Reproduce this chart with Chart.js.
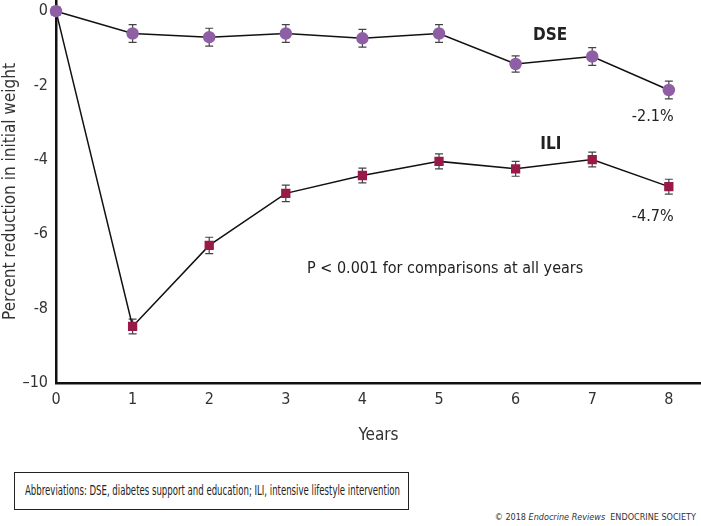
<!DOCTYPE html>
<html>
  <head>
    <title>Weight reduction DSE vs ILI</title>
    <script src="https://cdn.jsdelivr.net/npm/chart.js"></script>
    <style>
      body { margin: 0; background: #fff; font-family: "DejaVu Sans Condensed", "Liberation Sans Narrow", sans-serif; }
      #wrap { position: absolute; left: 0; top: 0; width: 701px; height: 450px; }
      #note {
        position: absolute; left: 14px; top: 472px; width: 395px; height: 38px;
        border: 1px solid #222; box-sizing: border-box;
      }
      #note span {
        position: absolute; left: 10px; top: 9px; font-size: 14px; color: #222; white-space: nowrap;
        transform: scaleX(0.68); transform-origin: 0 0;
      }
      #copy { position: absolute; right: 5px; top: 512px; font-size: 9px; color: #333; }
    </style>
  </head>
  <body>
    <div id="wrap"><canvas id="myChart" width="701" height="450"></canvas></div>
    <div id="note"><span>Abbreviations: DSE, diabetes support and education; ILI, intensive lifestyle intervention</span></div>
    <div id="copy">© 2018 <i>Endocrine Reviews</i>&nbsp; ENDOCRINE SOCIETY</div>

<script>
// dati
const years = [0, 1, 2, 3, 4, 5, 6, 7, 8];
const dse = [0, -0.6, -0.7, -0.6, -0.73, -0.6, -1.42, -1.22, -2.12];
const dseErr = [0, 0.24, 0.24, 0.24, 0.24, 0.24, 0.22, 0.24, 0.24];
const ili = [0, -8.48, -6.3, -4.9, -4.42, -4.04, -4.24, -3.99, -4.72];
const iliErr = [0, 0.2, 0.22, 0.22, 0.2, 0.2, 0.2, 0.2, 0.2];
const yTicks = [0, -2, -4, -6, -8, -10];
const FONT = '"DejaVu Sans Condensed", "Liberation Sans Narrow", sans-serif';

// etichette di testo sul grafico (posizione in coordinate dei dati)
const notes = [
  { text: "DSE", x: 6.45, y: -0.67, bold: true, size: 17 },
  { text: "ILI", x: 6.46, y: -3.6, bold: true, size: 17 },
  { text: "-2.1%", x: 7.79, y: -2.85, bold: false, size: 16 },
  { text: "-4.7%", x: 7.79, y: -5.54, bold: false, size: 16 },
  { text: "P < 0.001 for comparisons at all years", x: 5.08, y: -6.93, bold: false, size: 16 }
];

const errorBars = {
  id: "errorBars",
  beforeDatasetsDraw(chart) {
    const ctx = chart.ctx;
    const xs = chart.scales.x, ys = chart.scales.y;
    const errs = [dseErr, iliErr];
    ctx.save();
    ctx.strokeStyle = "#444";
    ctx.lineWidth = 1.2;
    chart.data.datasets.forEach((ds, d) => {
      ds.data.forEach((p, i) => {
        const e = errs[d][i];
        if (!e) return;
        const x = xs.getPixelForValue(p.x);
        const y1 = ys.getPixelForValue(p.y + e);
        const y2 = ys.getPixelForValue(p.y - e);
        ctx.beginPath();
        ctx.moveTo(x, y1); ctx.lineTo(x, y2);
        ctx.moveTo(x - 4, y1); ctx.lineTo(x + 4, y1);
        ctx.moveTo(x - 4, y2); ctx.lineTo(x + 4, y2);
        ctx.stroke();
      });
    });
    ctx.restore();
  },
  afterDraw(chart) {
    const ctx = chart.ctx;
    const xs = chart.scales.x, ys = chart.scales.y;
    ctx.save();
    ctx.fillStyle = "#222";
    ctx.textAlign = "center";
    ctx.textBaseline = "middle";
    notes.forEach(n => {
      ctx.font = (n.bold ? "bold " : "") + n.size + "px " + FONT;
      ctx.fillText(n.text, xs.getPixelForValue(n.x), ys.getPixelForValue(n.y));
    });
    ctx.restore();
  }
};

const ctx = document.getElementById("myChart").getContext("2d");
const chart = new Chart(ctx, {
  type: "line",
  data: {
    datasets: [
      {
        label: "DSE",
        data: years.map((x, i) => ({ x: x, y: dse[i] })),
        borderColor: "#111",
        borderWidth: 1.5,
        pointStyle: "circle",
        pointRadius: 5.5,
        pointBackgroundColor: "#8f5fa6",
        pointBorderColor: "#8f5fa6",
        tension: 0,
        clip: false
      },
      {
        label: "ILI",
        data: years.map((x, i) => ({ x: x, y: ili[i] })),
        borderColor: "#111",
        borderWidth: 1.5,
        pointStyle: "rect",
        pointRadius: 5.5,
        pointBackgroundColor: "#991a48",
        pointBorderColor: "#991a48",
        tension: 0,
        clip: false
      }
    ]
  },
  options: {
    responsive: false,
    animation: false,
    layout: { padding: 0, autoPadding: false },
    plugins: { legend: { display: false }, tooltip: { enabled: false } },
    scales: {
      x: {
        type: "linear",
        min: 0,
        max: 8.42,
        afterBuildTicks: s => { s.ticks = years.map(v => ({ value: v })); },
        afterFit: s => { s.height = 67; s.paddingLeft = 0; s.paddingRight = 0; },
        border: { color: "#111", width: 2.5 },
        grid: { display: false, drawOnChartArea: false, drawTicks: true, tickLength: 5, color: "#333" },
        ticks: { color: "#333", font: { family: FONT, size: 16 }, padding: 2, maxRotation: 0 },
        title: { display: true, text: "Years", color: "#333", font: { family: FONT, size: 17 }, padding: { top: 14 } }
      },
      y: {
        min: -10,
        max: 0.3,
        afterBuildTicks: s => { s.ticks = yTicks.map(v => ({ value: v })); },
        afterFit: s => { s.width = 56; s.paddingTop = 0; s.paddingBottom = 0; },
        border: { color: "#111", width: 2.5 },
        grid: { display: false, drawOnChartArea: false, drawTicks: true, tickLength: 5, color: "#333" },
        ticks: {
          color: "#333",
          font: { family: FONT, size: 16 },
          padding: 3,
          callback: v => (v === -10 ? "\u201310" : String(v))
        },
        title: { display: true, text: "Percent reduction in initial weight", color: "#333", font: { family: FONT, size: 17 }, padding: 0 }
      }
    }
  },
  plugins: [errorBars]
});
</script>
  </body>
</html>
